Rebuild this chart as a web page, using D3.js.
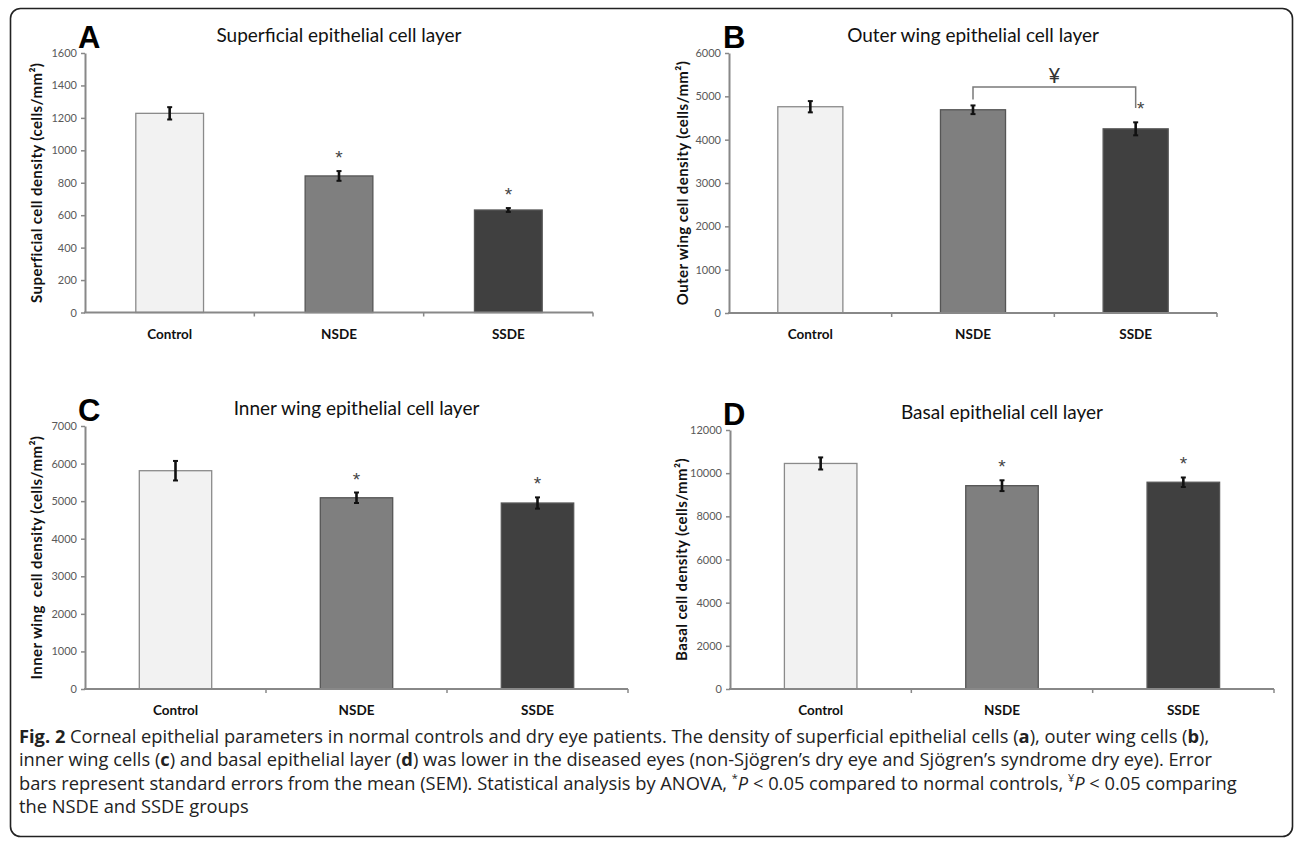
<!DOCTYPE html>
<html>
<head>
<meta charset="utf-8">
<script src="https://cdn.jsdelivr.net/npm/d3@7"></script>
<style>
  body { margin: 0; background: #fff; }
  svg { display: block; }
</style>
</head>
<body>
<div id="chart"></div>
<script>
// groups shared by all four panels
const categories = ['Control', 'NSDE', 'SSDE'];
const barColors = ['#f2f2f2', '#7f7f7f', '#404040'];

// A: superficial layer
const superficialMean = [1228, 842, 632];
const superficialSem = [38, 30, 12];
const superficialTicks = [0, 200, 400, 600, 800, 1000, 1200, 1400, 1600];
const superficialStars = [false, true, true];

// B: outer wing layer
const outerWingMean = [4760, 4690, 4250];
const outerWingSem = [130, 100, 150];
const outerWingTicks = [0, 1000, 2000, 3000, 4000, 5000, 6000];
const outerWingStars = [false, false, true];

// C: inner wing layer
const innerWingMean = [5810, 5090, 4950];
const innerWingSem = [260, 140, 150];
const innerWingTicks = [0, 1000, 2000, 3000, 4000, 5000, 6000, 7000];
const innerWingStars = [false, true, true];

// D: basal layer
const basalMean = [10450, 9420, 9580];
const basalSem = [280, 250, 220];
const basalTicks = [0, 2000, 4000, 6000, 8000, 10000, 12000];
const basalStars = [false, true, true];

const width = 1295, height = 841;
const uiFont = 'Lato, "Open Sans", sans-serif';

const svg = d3.select('#chart').append('svg')
  .attr('width', width)
  .attr('height', height);

// figure frame
svg.append('rect')
  .attr('x', 10.5).attr('y', 8.5)
  .attr('width', 1282).attr('height', 828)
  .attr('rx', 10).attr('ry', 10)
  .style('fill', 'none')
  .style('stroke', '#222')
  .style('stroke-width', 1.6);

const panels = [
  { letter: 'A', title: 'Superficial epithelial cell layer', yTitle: 'Superficial cell density (cells/mm²)',
    mean: superficialMean, sem: superficialSem, ticks: superficialTicks, stars: superficialStars,
    left: 85, right: 593, top: 53, bottom: 312.5, titleX: 37, letterX: 78 },
  { letter: 'B', title: 'Outer wing epithelial cell layer', yTitle: 'Outer wing cell density (cells/mm²)',
    mean: outerWingMean, sem: outerWingSem, ticks: outerWingTicks, stars: outerWingStars,
    left: 729, right: 1217, top: 53, bottom: 313, titleX: 683, letterX: 723, bracket: [1, 2] },
  { letter: 'C', title: 'Inner wing epithelial cell layer', yTitle: 'Inner wing  cell density (cells/mm²)',
    mean: innerWingMean, sem: innerWingSem, ticks: innerWingTicks, stars: innerWingStars,
    left: 85, right: 628, top: 426, bottom: 689, titleX: 37, letterX: 78 },
  { letter: 'D', title: 'Basal epithelial cell layer', yTitle: 'Basal cell density (cells/mm²)',
    mean: basalMean, sem: basalSem, ticks: basalTicks, stars: basalStars,
    left: 730, right: 1274, top: 430, bottom: 689, titleX: 682, letterX: 723 }
];

panels.forEach(drawPanel);

function drawPanel(p) {
  const g = svg.append('g').classed('panel-' + p.letter, true);
  const data = categories.map((c, i) => ({ cat: c, mean: p.mean[i], sem: p.sem[i], star: p.stars[i], color: barColors[i] }));

  const x = d3.scaleBand()
    .domain(categories)
    .range([p.left, p.right])
    .paddingInner(0.6)
    .paddingOuter(0.3);
  const step = x.step();
  const y = d3.scaleLinear()
    .domain([0, p.ticks[p.ticks.length - 1]])
    .range([p.bottom, p.top]);

  // bars
  g.append('g').selectAll('rect')
    .data(data)
    .enter()
    .append('rect')
    .attr('x', d => x(d.cat))
    .attr('y', d => y(d.mean))
    .attr('width', x.bandwidth())
    .attr('height', d => y(0) - y(d.mean))
    .style('fill', d => d.color)
    .style('stroke', (d, i) => i === 0 ? '#8a8a8a' : '#555')
    .style('stroke-width', 1.3);

  // y axis
  const yAxis = g.append('g')
    .attr('transform', `translate(${p.left},0)`)
    .call(d3.axisLeft(y).tickValues(p.ticks).tickSize(4).tickSizeOuter(0).tickPadding(4).tickFormat(d3.format('d')));
  yAxis.select('.domain').style('stroke', '#888').style('stroke-width', 2);
  yAxis.selectAll('.tick line').style('stroke', '#888').style('stroke-width', 1.5);
  yAxis.selectAll('.tick text')
    .style('font-family', uiFont)
    .style('font-size', '11px')
    .style('fill', '#595959');

  // x axis: line with ticks between the groups
  const xAxis = g.append('g');
  xAxis.append('line')
    .attr('x1', p.left - 1).attr('x2', p.right)
    .attr('y1', y(0)).attr('y2', y(0))
    .style('stroke', '#888').style('stroke-width', 2);
  xAxis.selectAll('line.xt')
    .data(d3.range(1, categories.length + 1))
    .enter()
    .append('line')
    .classed('xt', true)
    .attr('x1', i => p.left + step * i)
    .attr('x2', i => p.left + step * i)
    .attr('y1', y(0))
    .attr('y2', y(0) + 4)
    .style('stroke', '#888').style('stroke-width', 1.5);
  xAxis.selectAll('text')
    .data(categories)
    .enter()
    .append('text')
    .attr('x', d => x(d) + x.bandwidth() / 2)
    .attr('y', y(0) + 26)
    .attr('text-anchor', 'middle')
    .style('font-family', uiFont)
    .style('font-weight', 'bold')
    .style('font-size', '13.5px')
    .style('fill', '#111')
    .text(d => d);

  // error bars
  const err = g.append('g');
  data.forEach(d => {
    const cx = x(d.cat) + x.bandwidth() / 2;
    const y1 = y(d.mean + d.sem), y2 = y(d.mean - d.sem);
    err.append('line').attr('x1', cx).attr('x2', cx).attr('y1', y1).attr('y2', y2)
      .style('stroke', '#111').style('stroke-width', 2.6);
    [y1, y2].forEach(v => {
      err.append('line').attr('x1', cx - 2.5).attr('x2', cx + 2.5).attr('y1', v).attr('y2', v)
        .style('stroke', '#111').style('stroke-width', 2);
    });
  });

  // significance stars
  g.append('g').selectAll('text')
    .data(data.filter(d => d.star))
    .enter()
    .append('text')
    .attr('x', d => x(d.cat) + x.bandwidth() / 2 + (p.bracket ? 5 : 0))
    .attr('y', d => y(d.mean + d.sem) - 7)
    .attr('text-anchor', 'middle')
    .style('font-family', '"Liberation Sans", Arial, sans-serif')
    .style('font-size', '19px')
    .style('fill', '#444')
    .text('*');

  // bracket between two groups
  if (p.bracket) {
    const a = data[p.bracket[0]], b = data[p.bracket[1]];
    const ax = x(a.cat) + x.bandwidth() / 2, bx = x(b.cat) + x.bandwidth() / 2;
    const topY = Math.min(y(a.mean + a.sem), y(b.mean + b.sem)) - 18.5;
    g.append('path')
      .attr('d', `M${ax},${y(a.mean + a.sem) - 6}V${topY}H${bx}V${topY + 21}`)
      .style('fill', 'none')
      .style('stroke', '#7a7a7a')
      .style('stroke-width', 1.5);
    g.append('text')
      .attr('x', (ax + bx) / 2)
      .attr('y', topY - 4)
      .attr('text-anchor', 'middle')
      .style('font-family', uiFont)
      .style('font-size', '21px')
      .style('fill', '#333')
      .text('¥');
  }

  // panel letter and title
  g.append('text')
    .attr('x', p.letterX)
    .attr('y', p.top - 5)
    .style('font-family', '"Liberation Sans", Arial, sans-serif')
    .style('font-weight', 'bold')
    .style('font-size', '31px')
    .style('fill', '#000')
    .text(p.letter);
  g.append('text')
    .attr('x', (p.left + p.right) / 2)
    .attr('y', p.top - 11)
    .attr('text-anchor', 'middle')
    .style('font-family', uiFont)
    .style('font-size', '19px')
    .style('fill', '#111')
    .text(p.title);

  // y axis title
  g.append('text')
    .attr('transform', `translate(${p.titleX + 5},${(p.top + p.bottom) / 2}) rotate(-90)`)
    .attr('text-anchor', 'middle')
    .style('font-family', uiFont)
    .style('font-weight', 'bold')
    .style('font-size', '15px')
    .style('letter-spacing', '0.4px')
    .style('fill', '#111')
    .style('white-space', 'pre')
    .text(p.yTitle);
}

// caption
const captionLines = [
  [['Fig. 2', 'b'], [' Corneal epithelial parameters in normal controls and dry eye patients. The density of superficial epithelial cells ('], ['a', 'b'], ['), outer wing cells ('], ['b', 'b'], ['),']],
  [['inner wing cells ('], ['c', 'b'], [') and basal epithelial layer ('], ['d', 'b'], [') was lower in the diseased eyes (non-Sjögren’s dry eye and Sjögren’s syndrome dry eye). Error']],
  [['bars represent standard errors from the mean (SEM). Statistical analysis by ANOVA, '], ['*', 'sup'], ['P', 'i'], [' < 0.05 compared to normal controls, '], ['¥', 'sup'], ['P', 'i'], [' < 0.05 comparing']],
  [['the NSDE and SSDE groups']]
];
const caption = svg.append('g').classed('caption', true);
captionLines.forEach((line, li) => {
  const t = caption.append('text')
    .attr('x', 19)
    .attr('y', 743 + li * 23.3)
    .style('font-family', '"Open Sans", sans-serif')
    .style('font-size', '18.3px')
    .style('fill', '#222')
    .style('white-space', 'pre');
  line.forEach(([s, kind]) => {
    const ts = t.append('tspan').text(s);
    if (kind === 'b') ts.style('font-weight', 'bold');
    if (kind === 'i') ts.style('font-style', 'italic');
    if (kind === 'sup') ts.style('font-size', '11px').attr('dy', -8);
    if (kind === 'i' && li === 2) ts.attr('dy', 8);
  });
});
</script>
</body>
</html>
